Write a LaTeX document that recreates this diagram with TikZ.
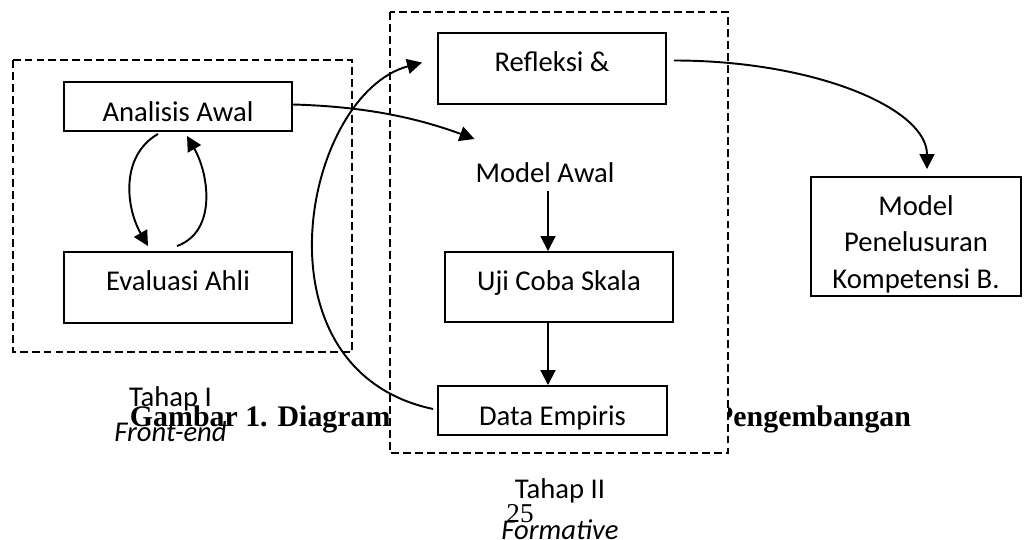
\documentclass[tikz,border=0pt]{standalone}
\usepackage{fontspec}
\setmainfont{Carlito}
\newfontfamily\capfont{Liberation Serif}
\usepackage{tikz}
\usetikzlibrary{arrows.meta, calc}

\begin{document}
\begin{tikzpicture}[x=0.02cm, y=-0.02cm, line width=1.1pt,
    >={Triangle[length=8.5pt, width=8.5pt]},
    every node/.style={font=\fontsize{16.3}{19.9}\selectfont},
    box/.style={draw, fill=white, inner sep=0pt},
    low/.style={text height=0.70cm, text depth=0.10cm},
    high/.style={text height=0.26cm, text depth=0.12cm},
    stage/.style={dash pattern=on 4.5pt off 2.3pt},
    caption/.style={inner sep=0pt, font=\capfont\bfseries\fontsize{17}{20}\selectfont}]
    \useasboundingbox (0,0) rectangle (1025,540);
    % labels that lie under the frames
    \node[align=center] (tahap1) at (170.5,414.5) {Tahap I\\\textit{Front-end}};
    \node[caption, anchor=base west] (cap1) at (129,427) {Gambar 1. Diagram};
    \node[caption, anchor=base east] (cap2) at (912,427) {Pengembangan};
    % the two stages
    \draw[stage] (13,60) rectangle (352,352);
    \draw[stage, fill=white] (390,12) rectangle (728,453);
    \node[align=center] (tahap2) at (560,509) {Tahap II\\[3.7pt]\textit{Formative}};
    \node[font=\capfont\fontsize{15.5}{18}\selectfont] (page) at (520,514) {25};
    % boxes
    \node[box, low, minimum width=4.56cm, minimum height=0.98cm] (awal) at (178,106.5) {Analisis Awal};
    \node[box, high, minimum width=4.56cm, minimum height=1.42cm] (ahli) at (178,287.5) {Evaluasi Ahli};
    \node[box, high, minimum width=4.56cm, minimum height=1.42cm] (refleksi) at (552,68.5) {Refleksi \&};
    \node[inner sep=0pt] (model) at (545,173) {Model Awal};
    \node[box, high, minimum width=4.56cm, minimum height=1.40cm] (uji) at (559,287) {Uji Coba Skala};
    \node[box, low, minimum width=4.58cm, minimum height=0.98cm] (data) at (552.5,410.5) {Data Empiris};
    \node[box, align=center, minimum width=4.20cm, minimum height=2.38cm,
        font=\fontsize{16.3}{20.8}\selectfont] (hasil) at (916,236.5) {\rule{0pt}{0.7cm}Model\\Penelusuran\\Kompetensi B.};
    % arrows
    \coordinate (mx) at ($(model.south)+(3,7)$);
    \draw[->] (mx) -- (mx |- uji.north);
    \draw[->] (mx |- uji.south) -- (mx |- data.north);
    \draw
    ($(awal.south)+(-20,2)$) edge[->, out=210, in=120] ($(ahli.north)+(-30,-5)$)
    ($(ahli.north)+(-1,-5)$) edge[->, out=20, in=-60] ($(awal.south)+(9,4)$);
    \draw[->] ($(awal.east)+(0,-2)$) .. controls +(70,2) and +(-60,-22) .. ($(model.north west)+(0,-23)$);
    \draw[->] ($(data.west)+(-4,-1.5)$) .. controls +(-184,-39) and +(-119,32) .. ($(refleksi.west)+(-15,-6)$);
    \draw[->] ($(refleksi.east)+(7,-8)$) .. controls +(140,0) and +(0,-61) .. ($(hasil.north)+(11,-7)$);
\end{tikzpicture}
\end{document}
